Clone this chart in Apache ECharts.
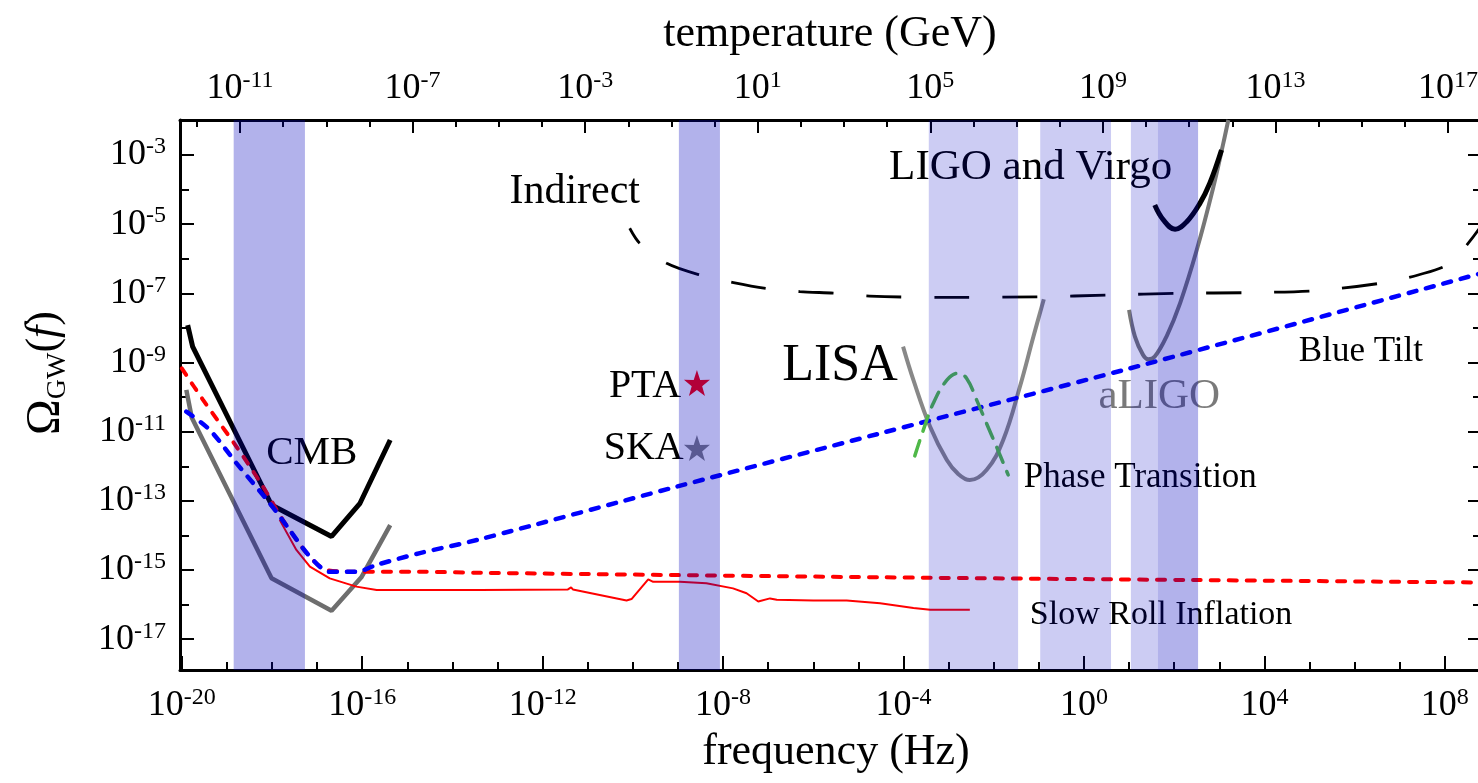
<!DOCTYPE html>
<html>
<head>
<meta charset="utf-8">
<script src="https://cdn.jsdelivr.net/npm/echarts@6/dist/echarts.min.js"></script>
<style>
html,body{margin:0;padding:0;background:#fff;}
#chart{width:1478px;height:783px;}
</style>
</head>
<body>
<div id="chart"></div>
<script>
// ---- All values are log10 exponents (frequency in Hz, Omega_GW, temperature in GeV) ----
const FREQ_LOG_MIN = -20.04, FREQ_LOG_MAX = 8.78;
const OMEGA_LOG_MIN = -17.89, OMEGA_LOG_MAX = -1.99;
const TEMP_LOG_MIN = -12.39, TEMP_LOG_MAX = 17.74;

// tick positions (exponents)
const freqMajorTicks = [-20, -16, -12, -8, -4, 0, 4, 8];
const freqMinorTicks = [-19, -18, -17, -15, -14, -13, -11, -10, -9, -7, -6, -5, -3, -2, -1, 1, 2, 3, 5, 6, 7];
const tempMajorTicks = [-11, -7, -3, 1, 5, 9, 13, 17];
const tempMinorTicks = [-12, -10, -9, -8, -6, -5, -4, -2, -1, 0, 2, 3, 4, 6, 7, 8, 10, 11, 12, 14, 15, 16];
const omegaMajorTicks = [-17, -15, -13, -11, -9, -7, -5, -3];
const omegaMinorTicks = [-16, -14, -12, -10, -8, -6, -4];

// CMB upper bound (black) and projected (grey)
const cmbUpperF = [-19.87, -19.76, -18.01, -16.68, -16.05, -15.38];
const cmbUpperO = [-7.92, -8.54, -13.12, -14.03, -13.07, -11.24];
const cmbLowerF = [-19.90, -19.78, -18.01, -16.68, -16.02, -15.38];
const cmbLowerO = [-9.79, -10.59, -15.24, -16.18, -15.21, -13.70];

// Slow roll inflation: dashed (red) and computed (thin red)
const slowRollDashedF = [-20.0, -19.53, -18.79, -18.20, -17.76, -17.23, -16.79, -16.13, -14.72, -13.39, -4.52, 2.50, 8.78];
const slowRollDashedO = [-9.17, -10.08, -11.43, -12.59, -13.55, -14.51, -15.00, -15.05, -15.05, -15.08, -15.21, -15.29, -15.36];
const slowRollF = [-17.83, -17.46, -17.16, -16.72, -16.13, -15.68, -14.72, -13.39, -11.44, -11.37, -11.33, -10.14, -10.03, -9.66, -9.55, -8.96, -8.37, -7.78, -7.48, -7.22, -6.96, -6.81, -6.00, -5.26, -4.52, -3.78, -3.41, -2.53];
const slowRollO = [-13.55, -14.42, -14.90, -15.24, -15.48, -15.58, -15.58, -15.58, -15.56, -15.50, -15.56, -15.88, -15.84, -15.27, -15.34, -15.34, -15.38, -15.53, -15.67, -15.91, -15.82, -15.86, -15.88, -15.88, -15.96, -16.10, -16.15, -16.15];

// Blue tilt (blue dashed)
const blueTiltF = [-19.90, -19.38, -18.79, -18.05, -17.61, -17.16, -16.72, -16.13, -15.68, -14.72, -13.39, -9.03, -4.52, 1.02, 8.78];
const blueTiltO = [-10.42, -10.95, -11.91, -13.07, -13.84, -14.61, -15.05, -15.05, -14.85, -14.51, -14.11, -12.59, -11.05, -9.17, -6.43];

// Indirect bound (black long dashes)
const indirectF = [-10.07, -9.85, -9.25, -8.51, -7.77, -7.03, -6.30, -5.48, -4.75, -3.23, -0.98, 0.55, 2.11, 3.64, 5.17, 6.67, 7.41, 8.12, 8.78];
const indirectO = [-5.12, -5.55, -6.13, -6.47, -6.69, -6.86, -6.95, -7.00, -7.08, -7.12, -7.10, -7.05, -7.00, -6.98, -6.92, -6.69, -6.47, -6.12, -5.10];

// LISA sensitivity (grey)
const lisaF = [-4.01, -3.78, -3.41, -3.04, -2.79, -2.53, -2.16, -1.79, -1.42, -1.12, -0.89];
const lisaO = [-8.54, -9.51, -10.86, -11.82, -12.22, -12.40, -12.11, -11.24, -9.70, -8.25, -7.17];

// Phase transition (green dashed)
const phaseF = [-3.75, -3.56, -3.34, -3.04, -2.79, -2.60, -2.38, -2.16, -1.94, -1.68];
const phaseO = [-11.70, -10.95, -10.18, -9.51, -9.31, -9.46, -10.08, -10.76, -11.43, -12.25];

// aLIGO (grey) and LIGO/Virgo (black)
const aligoF = [1.00, 1.13, 1.31, 1.43, 1.57, 1.83, 2.13, 2.50, 2.87, 3.09, 3.20];
const aligoO = [-7.48, -8.25, -8.78, -8.91, -8.83, -8.25, -7.29, -5.75, -3.92, -2.66, -1.99];
const ligoF = [1.57, 1.76, 2.02, 2.28, 2.57, 2.79, 3.05];
const ligoO = [-4.45, -4.88, -5.15, -4.93, -4.40, -3.82, -2.86];

// PTA and SKA stars
const starNames = ['PTA', 'SKA'];
const starF = [-8.58, -8.58];
const starO = [-9.59, -11.47];

// Frequency bands of the experiments
const bandStart = [-18.85, -8.98, -3.44, -0.97, 1.04, 1.64];
const bandEnd = [-17.27, -8.07, -1.46, 0.60, 1.64, 2.53];
const bandShade = ['dark', 'dark', 'light', 'light', 'light', 'dark'];

// Annotations (text anchored at data coordinates)
const annoText = ['CMB', 'Indirect', 'LIGO and Virgo', 'LISA', 'PTA', 'SKA', 'aLIGO', 'Blue Tilt', 'Phase Transition', 'Slow Roll Inflation'];
const annoF = [-17.12, -11.29, -1.18, -5.41, -9.73, -9.76, 1.67, 6.14, 1.25, 1.71];
const annoO = [-11.62, -4.07, -3.38, -9.10, -9.70, -11.48, -9.99, -8.68, -12.34, -16.31];

// ---- styles ----
const FONT = '"Liberation Serif", "Times New Roman", serif';
const annoStyle = {
  'CMB': {size: 41, color: '#000'},
  'Indirect': {size: 42, color: '#000'},
  'LIGO and Virgo': {size: 43, color: '#000'},
  'LISA': {size: 52, color: '#000'},
  'PTA': {size: 40, color: '#000'},
  'SKA': {size: 40, color: '#000'},
  'aLIGO': {size: 43, color: '#7a7a7a'},
  'Blue Tilt': {size: 35, color: '#000'},
  'Phase Transition': {size: 35, color: '#000'},
  'Slow Roll Inflation': {size: 34, color: '#000'}
};
const starColor = {'PTA': '#ff0000', 'SKA': '#808080'};
const BAND_DARK = 'rgba(0,0,188,0.30)';
const BAND_LIGHT = 'rgba(0,0,194,0.20)';
const STAR = 'path://M50,0 L61.8,35.1 L97.6,34.5 L69.1,57.3 L79.4,90.5 L50,70 L20.6,90.5 L30.9,57.3 L2.4,34.5 L38.2,35.1 Z';

const zip = (a, b) => a.map((v, i) => [v, b[i]]);

const RICH = {
  b: {fontFamily: FONT, fontSize: 36, color: '#000', lineHeight: 40},
  s: {fontFamily: FONT, fontSize: 24, color: '#000', lineHeight: 17, verticalAlign: 'top'}
};
const powLabel = v => '{b|10}{s|' + v + '}';

function axisBase(min, max) {
  return {
    type: 'value', min: min, max: max, splitLine: {show: false},
    axisLine: {show: true, onZero: false, lineStyle: {color: '#000', width: 3}}
  };
}
function tickOnly(base, pos, ticks, len) {
  return Object.assign(base, {
    position: pos,
    axisLine: {show: false, onZero: false},
    axisTick: {show: true, inside: true, length: len, lineStyle: {color: '#000', width: 2}, customValues: ticks},
    axisLabel: {show: false}
  });
}

const xAxes = [
  Object.assign(axisBase(FREQ_LOG_MIN, FREQ_LOG_MAX), {
    position: 'bottom',
    name: 'frequency (Hz)', nameLocation: 'middle', nameGap: 60,
    nameTextStyle: {fontFamily: FONT, fontSize: 44, color: '#000', padding: [0, 0, 0, 12]},
    axisTick: {show: true, inside: true, length: 14, lineStyle: {color: '#000', width: 2}, customValues: freqMajorTicks},
    axisLabel: {show: true, margin: 16, customValues: freqMajorTicks, formatter: powLabel, rich: RICH}
  }),
  Object.assign(axisBase(TEMP_LOG_MIN, TEMP_LOG_MAX), {
    position: 'top',
    name: 'temperature (GeV)', nameLocation: 'middle', nameGap: 64,
    nameTextStyle: {fontFamily: FONT, fontSize: 44, color: '#000'},
    axisTick: {show: true, inside: true, length: 13, lineStyle: {color: '#000', width: 2}, customValues: tempMajorTicks},
    axisLabel: {show: true, margin: 11, customValues: tempMajorTicks, formatter: powLabel, rich: RICH}
  }),
  tickOnly(axisBase(FREQ_LOG_MIN, FREQ_LOG_MAX), 'bottom', freqMinorTicks, 8),
  tickOnly(axisBase(TEMP_LOG_MIN, TEMP_LOG_MAX), 'top', tempMinorTicks, 7)
];

const yAxes = [
  Object.assign(axisBase(OMEGA_LOG_MIN, OMEGA_LOG_MAX), {
    position: 'left',
    name: '{o|Ω}{g|GW}{p|(}{f|f}{p|)}', nameLocation: 'middle', nameGap: 108, nameRotate: 90,
    nameTextStyle: {
      fontFamily: FONT, color: '#000', padding: [0, 0, 0, 44],
      rich: {
        o: {fontFamily: FONT, fontSize: 48, lineHeight: 50, verticalAlign: 'top', color: '#000'},
        g: {fontFamily: FONT, fontSize: 28, lineHeight: 20, verticalAlign: 'bottom', padding: [38, 0, 0, 0], color: '#000'},
        p: {fontFamily: FONT, fontSize: 44, lineHeight: 50, verticalAlign: 'top', color: '#000'},
        f: {fontFamily: FONT, fontSize: 44, lineHeight: 50, verticalAlign: 'top', fontStyle: 'italic', color: '#000'}
      }
    },
    axisTick: {show: true, inside: true, length: 14, lineStyle: {color: '#000', width: 2}, customValues: omegaMajorTicks},
    axisLabel: {show: true, margin: 14, customValues: omegaMajorTicks, formatter: powLabel, rich: RICH}
  }),
  tickOnly(axisBase(OMEGA_LOG_MIN, OMEGA_LOG_MAX), 'left', omegaMinorTicks, 9),
  Object.assign(axisBase(OMEGA_LOG_MIN, OMEGA_LOG_MAX), {
    position: 'right',
    axisTick: {show: true, inside: true, length: 12, lineStyle: {color: '#000', width: 2}, customValues: omegaMajorTicks},
    axisLabel: {show: false}
  }),
  tickOnly(axisBase(OMEGA_LOG_MIN, OMEGA_LOG_MAX), 'right', omegaMinorTicks, 7)
];

function lineSeries(name, f, o, style, smooth, z) {
  return {
    type: 'line', name: name, xAxisIndex: 0, yAxisIndex: 0,
    data: zip(f, o), showSymbol: false, symbol: 'none', smooth: smooth,
    lineStyle: style, silent: true, z: z || 3
  };
}

const series = [
  // text annotations (drawn under the bands)
  {
    type: 'scatter', xAxisIndex: 0, yAxisIndex: 0, silent: true, z: 2,
    symbolSize: 0, itemStyle: {color: 'rgba(0,0,0,0)', opacity: 1},
    data: annoText.map((t, i) => ({
      value: [annoF[i], annoO[i]],
      label: {
        show: true, position: 'inside', align: 'center', verticalAlign: 'middle', opacity: 1,
        formatter: t, fontFamily: FONT, fontSize: annoStyle[t].size, color: annoStyle[t].color
      }
    }))
  },
  lineSeries('CMB projected', cmbLowerF, cmbLowerO, {color: '#6e6e6e', width: 4.5}, false),
  lineSeries('CMB bound', cmbUpperF, cmbUpperO, {color: '#000', width: 5}, false),
  lineSeries('LISA', lisaF, lisaO, {color: '#888888', width: 4}, 0.4),
  lineSeries('aLIGO', aligoF, aligoO, {color: '#777777', width: 4}, 0.4),
  lineSeries('LIGO and Virgo', ligoF, ligoO, {color: '#000', width: 5}, 0.4),
  lineSeries('Indirect', indirectF, indirectO, {color: '#000', width: 2.8, type: [35, 33], dashOffset: 17}, 0.3),
  lineSeries('Slow roll inflation', slowRollF, slowRollO, {color: '#ff0000', width: 2}, false),
  lineSeries('Slow roll (dashed)', slowRollDashedF, slowRollDashedO, {color: '#ff0000', width: 4, type: [8, 10], cap: 'round'}, 0.3),
  lineSeries('Blue tilt', blueTiltF, blueTiltO, {color: '#0000ff', width: 4.5, type: [8, 10], cap: 'round'}, 0.3),
  lineSeries('Phase transition', phaseF, phaseO, {color: '#4fb848', width: 3.5, type: [16, 10], cap: 'round'}, 0.4),
  {
    type: 'scatter', xAxisIndex: 0, yAxisIndex: 0, silent: true, z: 3,
    symbol: STAR, symbolSize: 26,
    data: starNames.map((n, i) => ({value: [starF[i], starO[i]], itemStyle: {color: starColor[n], opacity: 1}}))
  },
  // shaded experimental bands, drawn on top
  {
    type: 'custom', xAxisIndex: 0, yAxisIndex: 0, silent: true, z: 10,
    data: bandStart.map((s, i) => [s, bandEnd[i], i]),
    encode: {x: [0, 1]},
    renderItem: function (params, api) {
      const i = api.value(2);
      const p0 = api.coord([api.value(0), OMEGA_LOG_MAX]);
      const p1 = api.coord([api.value(1), OMEGA_LOG_MIN]);
      return {
        type: 'rect',
        shape: {x: p0[0], y: p0[1], width: p1[0] - p0[0], height: p1[1] - p0[1]},
        style: {fill: bandShade[i] === 'dark' ? BAND_DARK : BAND_LIGHT}
      };
    }
  }
];

const chart = echarts.init(document.getElementById('chart'), null, {renderer: 'canvas', width: 1478, height: 783});
chart.setOption({
  animation: false,
  backgroundColor: '#ffffff',
  textStyle: {fontFamily: FONT},
  grid: {left: 180, top: 120, width: 1300, height: 550, containLabel: false, outerBoundsMode: 'none'},
  xAxis: xAxes,
  yAxis: yAxes,
  series: series
});
</script>
</body>
</html>
